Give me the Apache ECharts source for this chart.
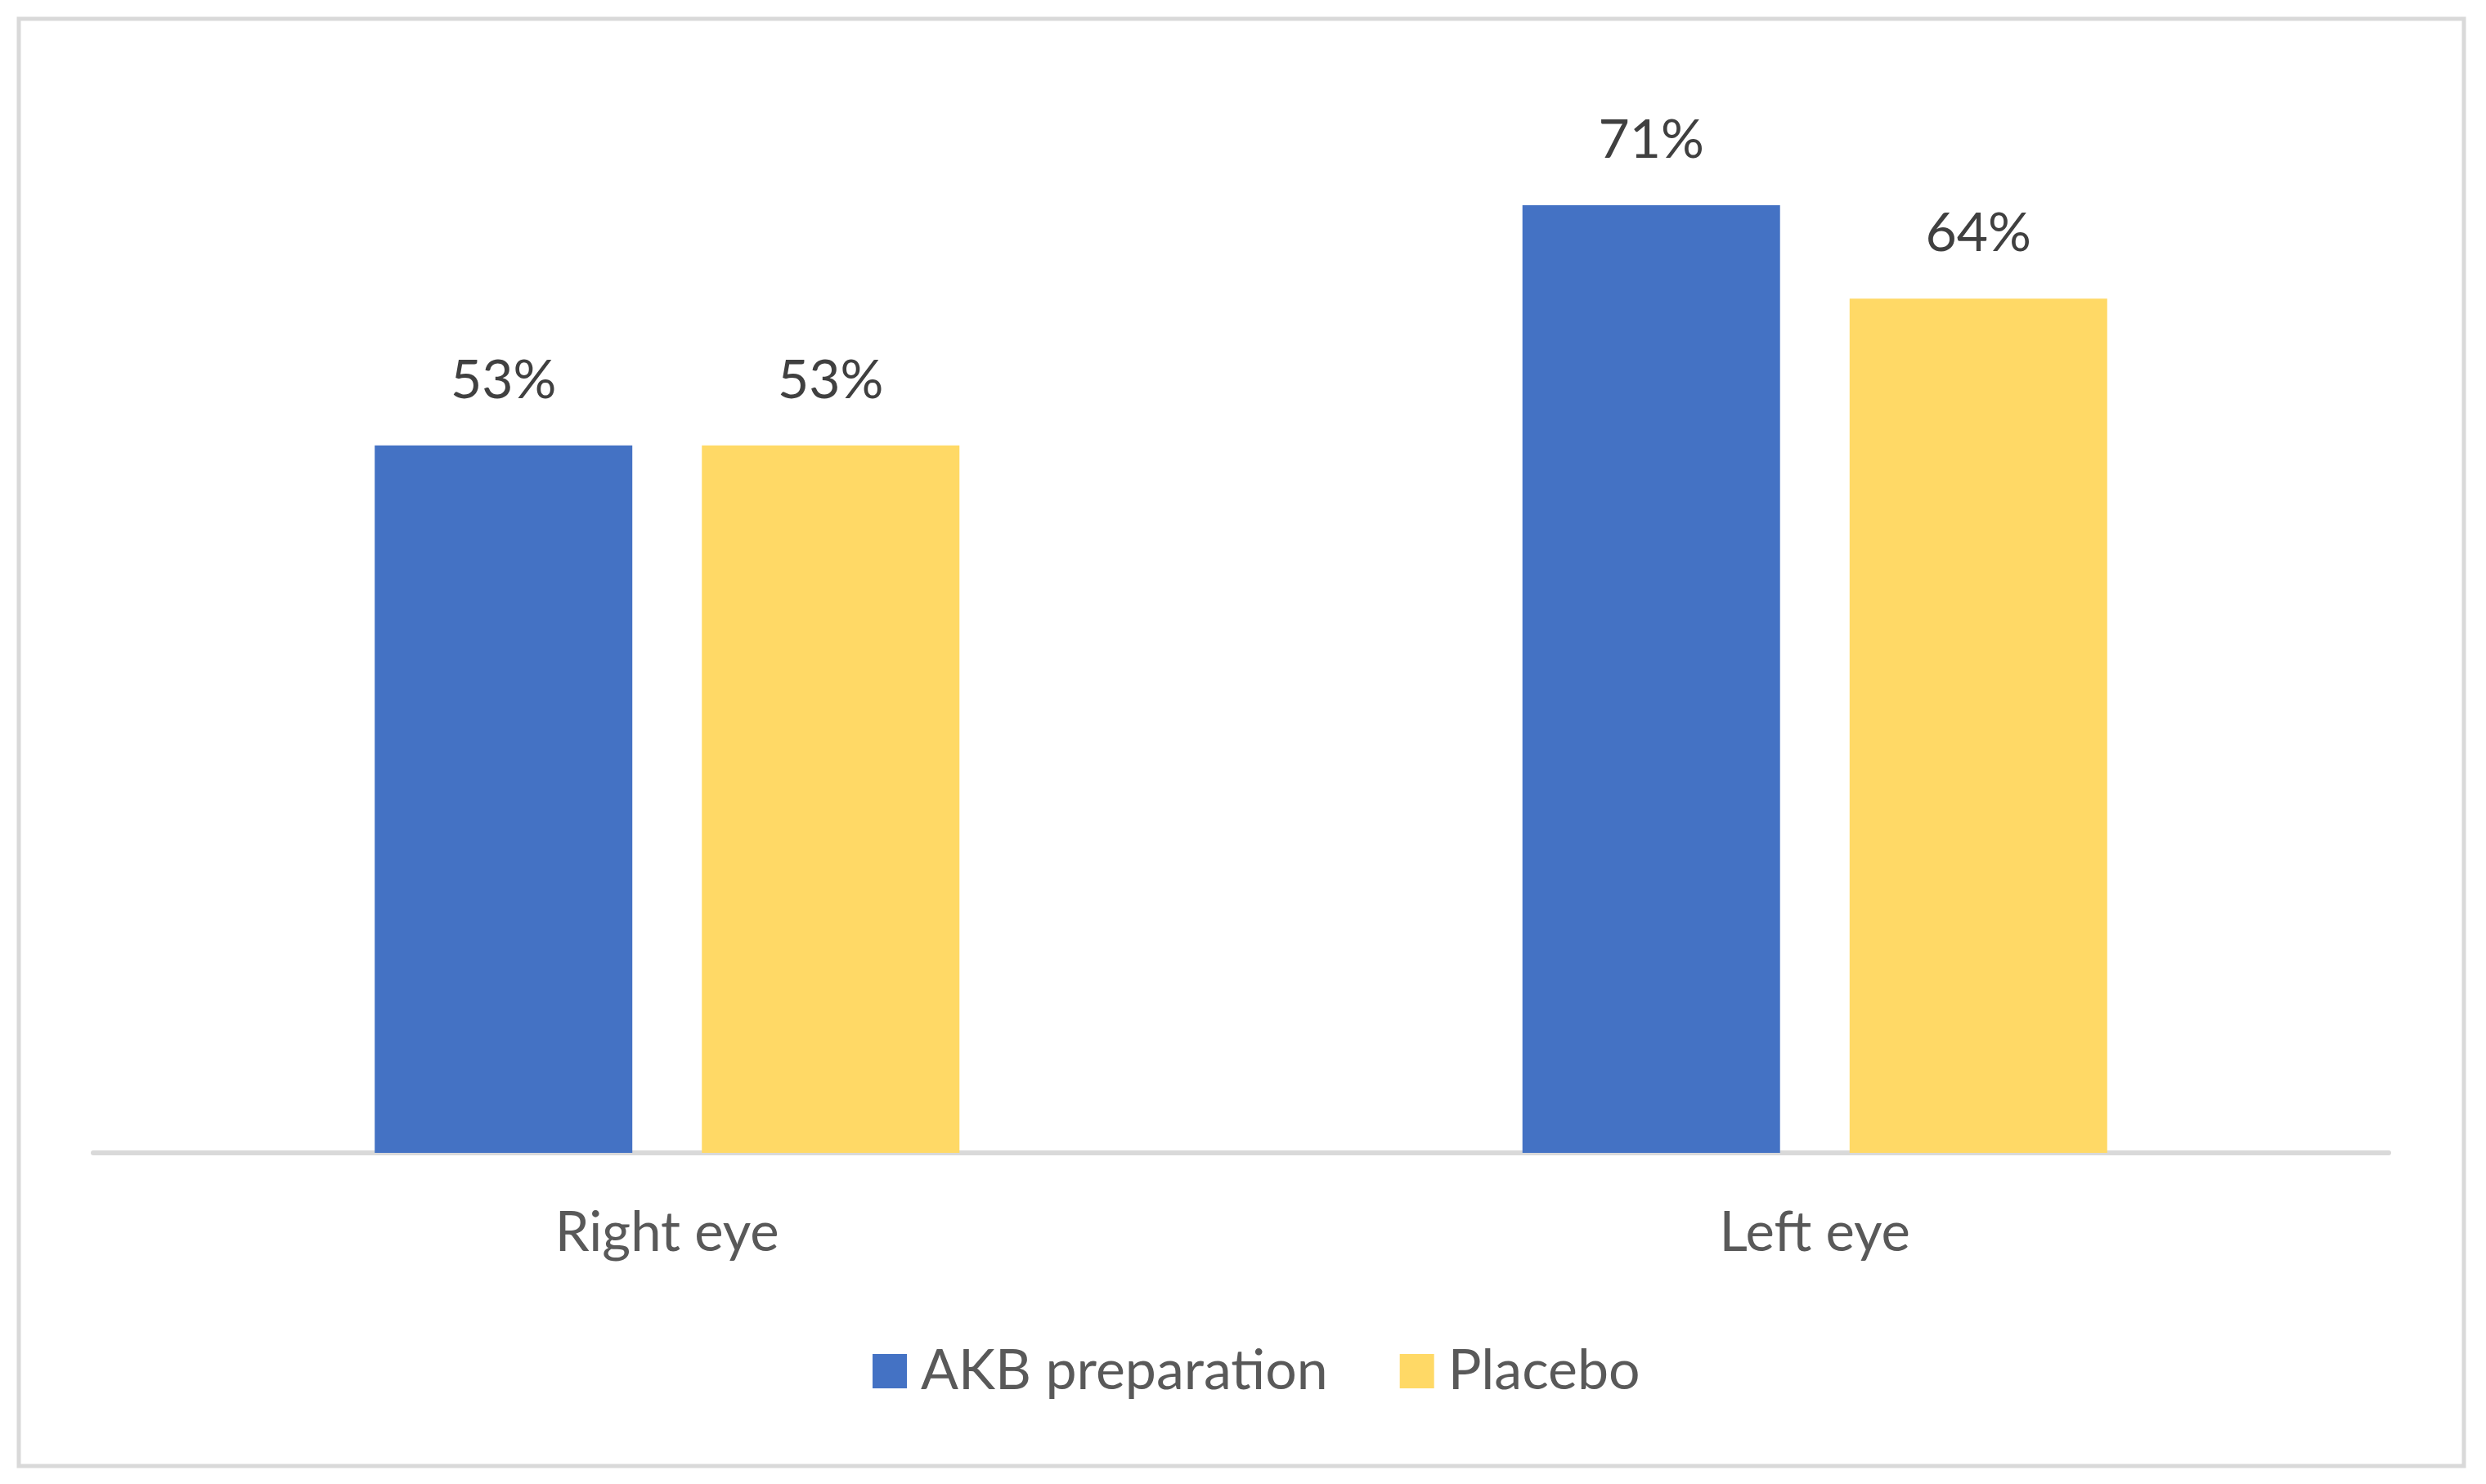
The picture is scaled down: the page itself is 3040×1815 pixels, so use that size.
<!DOCTYPE html>
<html>
<head>
<meta charset="utf-8">
<script src="https://cdn.jsdelivr.net/npm/echarts@6/dist/echarts.min.js"></script>
<style>
html,body{margin:0;padding:0;background:#fff;}
#c{width:3040px;height:1815px;}
</style>
</head>
<body>
<div id="c"></div>
<script>
const categories = ['Right eye', 'Left eye'];
const seriesNames = ['AKB preparation', 'Placebo'];
const akbValues = [0.53, 0.71];
const placeboValues = [0.53, 0.64];

const chart = echarts.init(document.getElementById('c'));
const FONT = 'Lato';
const labelStyle = {
  show: true,
  position: 'top',
  distance: 46,
  color: '#404040',
  fontFamily: FONT,
  fontSize: 66,
  formatter: p => Math.round(p.value * 100) + '%'
};
chart.setOption({
  animation: false,
  backgroundColor: '#fff',
  graphic: [{
    type: 'rect',
    shape: {x: 23, y: 23, width: 2990, height: 1770},
    style: {fill: 'none', stroke: '#d9d9d9', lineWidth: 5},
    silent: true
  }],
  grid: {left: 114, right: 119, top: 104, bottom: 405, containLabel: false},
  legend: {
    data: seriesNames,
    left: 1062,
    top: 1638,
    icon: 'rect',
    itemWidth: 42,
    itemHeight: 42,
    itemGap: 88,
    textStyle: {color: '#595959', fontFamily: FONT, fontSize: 68, padding: [0, 0, 0, 12]}
  },
  xAxis: {
    type: 'category',
    data: categories,
    axisLine: {lineStyle: {color: '#d9d9d9', width: 6}},
    axisTick: {show: false},
    axisLabel: {color: '#595959', fontFamily: FONT, fontSize: 67, margin: 65}
  },
  yAxis: {
    type: 'value',
    min: 0,
    max: 0.8,
    show: false,
    splitLine: {show: false}
  },
  series: [
    {
      name: seriesNames[0],
      type: 'bar',
      data: akbValues,
      barWidth: 315,
      barGap: '27%',
      itemStyle: {color: '#4472C4'},
      label: labelStyle
    },
    {
      name: seriesNames[1],
      type: 'bar',
      data: placeboValues,
      barWidth: 315,
      barGap: '27%',
      itemStyle: {color: '#FFD966'},
      label: labelStyle
    }
  ]
});
</script>
</body>
</html>
